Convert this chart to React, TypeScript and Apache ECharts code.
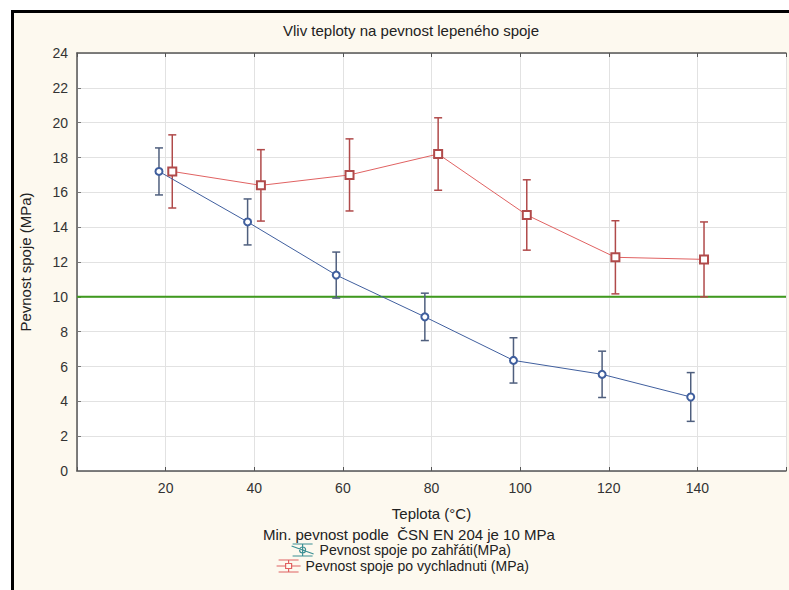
import React, { useEffect, useRef } from "react";
import * as echarts from "echarts";

const TEMPS = [20, 40, 60, 80, 100, 120, 140];
const HEATED = [17.2, 14.3, 11.25, 8.85, 6.35, 5.55, 4.25];
const HEATED_ERR = [1.35, 1.32, 1.32, 1.36, 1.3, 1.33, 1.4];
const COOLED = [17.2, 16.4, 17.0, 18.2, 14.7, 12.27, 12.15];
const COOLED_ERR = [2.1, 2.05, 2.07, 2.08, 2.02, 2.1, 2.15];
const MIN_STRENGTH = 10;
const X_MIN = 0;
const X_MAX = 160;
const Y_MIN = 0;
const Y_MAX = 24;

const TITLE = "Vliv teploty na pevnost lepeného spoje";
const X_NAME = "Teplota (°C)";
const Y_NAME = "Pevnost spoje (MPa)";
const MIN_NAME = "Min. pevnost podle  ČSN EN 204 je 10 MPa";
const HEATED_NAME = "Pevnost spoje po zahřáti(MPa)";
const COOLED_NAME = "Pevnost spoje po vychladnuti (MPa)";

const FONT = "'Liberation Sans', Arial, sans-serif";
const BLUE = "#405f9e";
const BLUE_ERR = "#4f5f7e";
const RED = "#e06262";
const RED_ERR = "#b04a4a";
const GREEN = "#3f9a1e";
const SHIFT = 1.5;

function errorBarSeries(name: string, xs: number[], means: number[], errs: number[], color: string) {
  const data = xs.map((x, i) => [x, means[i] - errs[i], means[i] + errs[i]]);
  return {
    type: "custom",
    name: name + "-err",
    z: 2,
    data,
    encode: { x: 0, y: [1, 2] },
    renderItem: (params: any, api: any) => {
      const x = api.value(0);
      const lo = api.coord([x, api.value(1)]);
      const hi = api.coord([x, api.value(2)]);
      const cap = 4;
      const style = { stroke: color, lineWidth: 1.5 };
      return {
        type: "group",
        children: [
          { type: "line", shape: { x1: hi[0], y1: hi[1], x2: lo[0], y2: lo[1] }, style },
          { type: "line", shape: { x1: hi[0] - cap, y1: hi[1], x2: hi[0] + cap, y2: hi[1] }, style },
          { type: "line", shape: { x1: lo[0] - cap, y1: lo[1], x2: lo[0] + cap, y2: lo[1] }, style },
        ],
      };
    },
  };
}

export default function App() {
  const ref = useRef<HTMLDivElement>(null);
  useEffect(() => {
    if (!ref.current) return;
    const chart = echarts.init(ref.current, undefined, { renderer: "svg" });
    const heatedX = TEMPS.map((t) => t - SHIFT);
    const cooledX = TEMPS.map((t) => t + SHIFT);
    const textStyle = { fontFamily: FONT, fontSize: 15, color: "#222" };
    const legendBase = {
      orient: "horizontal",
      selectedMode: false,
      itemHeight: 12,
      itemWidth: 24,
      itemGap: 0,
      padding: [2, 5, 2, 5],
      textStyle: { fontFamily: FONT, fontSize: 14, lineHeight: 14, color: "#222" },
    };
    chart.setOption({
      animation: false,
      backgroundColor: "transparent",
      textStyle: { fontFamily: FONT },
      title: {
        text: TITLE,
        left: 406,
        top: 18,
        textAlign: "center",
        textStyle: { ...textStyle, fontWeight: "normal" },
      },
      grid: {
        left: 77,
        top: 53,
        width: 716,
        height: 418,
        show: true,
        backgroundColor: "#ffffff",
        borderWidth: 0,
      },
      legend: [
        {
          ...legendBase,
          left: 253,
          top: 525,
          itemWidth: 0,
          icon: "none",
          textStyle: { ...textStyle, lineHeight: 15 },
          data: [MIN_NAME],
        },
        {
          ...legendBase,
          left: 286,
          top: 541,
          data: [
            {
              name: HEATED_NAME,
              icon: "path://M2,0 L22,0 M2,12 L22,12 M12,0 L12,12 M1,2 L23,10 M15,6 A3,3 0 1 1 9,6 A3,3 0 1 1 15,6",
              itemStyle: { color: "transparent", borderColor: "#3c8f94", borderWidth: 1.2 },
            },
          ],
        },
        {
          ...legendBase,
          left: 271,
          top: 557,
          data: [
            {
              name: COOLED_NAME,
              icon: "path://M2,0 L22,0 M2,12 L22,12 M12,0 L12,3.5 M12,8.5 L12,12 M0,6 L9,6 M15,6 L24,6 M9,3.5 L15,3.5 L15,8.5 L9,8.5 Z",
              itemStyle: { color: "transparent", borderColor: RED, borderWidth: 1.2 },
            },
          ],
        },
      ],
      xAxis: [
        {
          type: "value",
          min: X_MIN,
          max: X_MAX,
          interval: 20,
          name: X_NAME,
          nameLocation: "middle",
          nameGap: 35,
          nameTextStyle: textStyle,
          axisLine: { show: true, onZero: false, lineStyle: { color: "#555", width: 1.5 } },
          axisTick: { show: true, inside: true, length: 4, lineStyle: { color: "#555" } },
          axisLabel: {
            margin: 10,
            fontFamily: FONT,
            fontSize: 14,
            color: "#333",
            formatter: (v: number) => (v === X_MIN || v === X_MAX ? "" : String(v)),
          },
          splitLine: { show: true, lineStyle: { color: "#e2e2e2", width: 1 } },
        },
        {
          type: "value",
          position: "top",
          min: X_MIN,
          max: X_MAX,
          interval: 20,
          axisLine: { show: true, onZero: false, lineStyle: { color: "#555", width: 1.5 } },
          axisTick: { show: true, inside: true, length: 4, lineStyle: { color: "#555" } },
          axisLabel: { show: false },
          splitLine: { show: false },
        },
      ],
      yAxis: {
        type: "value",
        min: Y_MIN,
        max: Y_MAX,
        interval: 2,
        name: Y_NAME,
        nameLocation: "middle",
        nameGap: 44,
        nameTextStyle: textStyle,
        axisLine: { show: true, onZero: false, lineStyle: { color: "#555", width: 1.5 } },
        axisTick: { show: true, inside: true, length: 4, lineStyle: { color: "#777" } },
        axisLabel: { margin: 9, fontFamily: FONT, fontSize: 14, color: "#333" },
        splitLine: { show: true, lineStyle: { color: "#e2e2e2", width: 1 } },
      },
      series: [
        {
          type: "line",
          name: MIN_NAME,
          data: [
            [X_MIN, MIN_STRENGTH],
            [X_MAX, MIN_STRENGTH],
          ],
          showSymbol: false,
          symbol: "none",
          lineStyle: { color: GREEN, width: 2 },
          itemStyle: { color: GREEN },
          z: 1,
        },
        errorBarSeries(HEATED_NAME, heatedX, HEATED, HEATED_ERR, BLUE_ERR),
        errorBarSeries(COOLED_NAME, cooledX, COOLED, COOLED_ERR, RED_ERR),
        {
          type: "line",
          name: HEATED_NAME,
          data: heatedX.map((x, i) => [x, HEATED[i]]),
          symbol: "emptyCircle",
          symbolSize: 7,
          lineStyle: { color: BLUE, width: 1 },
          itemStyle: { color: BLUE, borderWidth: 1 },
          z: 3,
        },
        {
          type: "line",
          name: COOLED_NAME,
          data: cooledX.map((x, i) => [x, COOLED[i]]),
          symbol: "emptyRect",
          symbolSize: 8,
          lineStyle: { color: RED, width: 1 },
          itemStyle: { color: RED_ERR, borderWidth: 1 },
          z: 3,
        },
      ],
    });
    return () => chart.dispose();
  }, []);

  return (
    <div style={{ position: "absolute", left: 0, top: 0, width: 789, height: 590, background: "#ffffff", overflow: "hidden" }}>
      <div
        style={{
          position: "absolute",
          left: 11,
          top: 10,
          width: 800,
          height: 600,
          borderLeft: "3px solid #000",
          borderTop: "3px solid #000",
          background: "#fdf9ef",
        }}
      />
      <div ref={ref} style={{ position: "absolute", left: 0, top: 0, width: 789, height: 590 }} />
    </div>
  );
}
